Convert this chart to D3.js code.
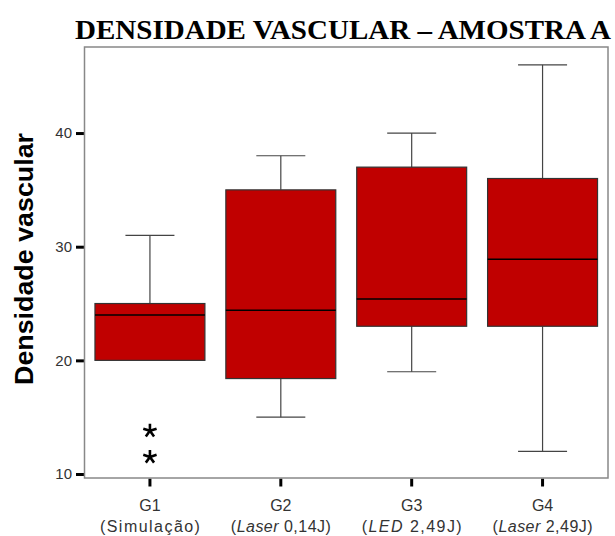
<!DOCTYPE html>
<html>
<head>
    <meta charset="UTF-8">
    <title>Densidade vascular - Amostra A</title>
    <script src="https://d3js.org/d3.v7.min.js"></script>
    <style>
        body { margin: 0; padding: 0; background: #fff; }
        svg { display: block; }
        .tick-label { font-family: "Liberation Sans", Arial, sans-serif; fill: #333; }
    </style>
</head>
<body>
    <svg id="chart" width="615" height="536"></svg>

    <script>
        // dados (SPSS boxplot)
        const groups = ["G1", "G2", "G3", "G4"];
        const italicPart = ["", "Laser", "LED", "Laser"];
        const restPart = ["Simulação", " 0,14J", " 2,49J", " 2,49J"];
        const whiskerLow = [20, 15, 19, 12];
        const q1 = [20, 18.4, 23, 23];
        const median = [24, 24.4, 25.4, 28.9];
        const q3 = [25, 35, 37, 36];
        const whiskerHigh = [31, 38, 40, 46];
        const outlierGroup = ["G1", "G1"];
        const outlierValue = [13.8, 11.5];
        const yTicks = [10, 20, 30, 40];

        const svg = d3.select("#chart");
        const frame = { left: 84.5, right: 608, top: 47, bottom: 478 };

        const x = d3.scaleBand()
            .domain(groups)
            .range([frame.left, frame.right])
            .paddingInner(0.16)
            .paddingOuter(0.08);

        const y = d3.scaleLinear()
            .domain([9.65, 47.57])
            .range([frame.bottom, frame.top]);

        const boxes = groups.map((g, i) => ({
            g, lo: whiskerLow[i], q1: q1[i], med: median[i], q3: q3[i], hi: whiskerHigh[i]
        }));

        // titulo
        svg.append("text")
            .attr("x", 75)
            .attr("y", 39)
            .attr("textLength", 536)
            .attr("lengthAdjust", "spacingAndGlyphs")
            .style("font-family", "'Liberation Serif', 'Times New Roman', serif")
            .style("font-weight", "bold")
            .style("font-size", "28px")
            .text("DENSIDADE VASCULAR – AMOSTRA A");

        // eixo y: titulo
        svg.append("text")
            .attr("transform", "translate(33,259) rotate(-90)")
            .attr("text-anchor", "middle")
            .attr("textLength", 252)
            .attr("lengthAdjust", "spacingAndGlyphs")
            .style("font-family", "'Liberation Sans', Arial, sans-serif")
            .style("font-weight", "bold")
            .style("font-size", "25px")
            .text("Densidade vascular");

        // eixo y
        const yAxis = svg.append("g")
            .attr("transform", `translate(${frame.left - 0.5},0)`)
            .call(d3.axisLeft(y).tickValues(yTicks).tickSize(8).tickPadding(4));
        yAxis.select(".domain").remove();
        yAxis.selectAll(".tick line").attr("stroke", "#000").attr("stroke-width", 3);
        yAxis.selectAll(".tick text")
            .attr("class", "tick-label")
            .style("font-size", "15px")
            .attr("font-family", null);

        // eixo x
        const xAxis = svg.append("g")
            .attr("transform", `translate(0,${frame.bottom + 0.5})`)
            .call(d3.axisBottom(x).tickSize(8).tickFormat(""));
        xAxis.select(".domain").remove();
        xAxis.selectAll(".tick line").attr("stroke", "#000").attr("stroke-width", 3);

        const xLabels = svg.append("g").selectAll("g")
            .data(groups)
            .join("g")
            .attr("transform", d => `translate(${x(d) + x.bandwidth() / 2},0)`);

        xLabels.append("text")
            .attr("class", "tick-label")
            .attr("y", 511)
            .attr("text-anchor", "middle")
            .style("font-size", "16px")
            .text(d => d);

        const sub = xLabels.append("text")
            .attr("class", "tick-label")
            .attr("y", 532)
            .attr("text-anchor", "middle")
            .attr("textLength", 100)
            .attr("lengthAdjust", "spacing")
            .style("font-size", "16px");
        sub.append("tspan").text("(");
        sub.append("tspan").style("font-style", "italic").text((d, i) => italicPart[i]);
        sub.append("tspan").text((d, i) => restPart[i] + ")");

        // caixas
        const capHalf = 24.5;
        const bw = x.bandwidth();
        const box = svg.append("g").selectAll("g")
            .data(boxes)
            .join("g")
            .attr("transform", d => `translate(${x(d.g)},0)`);

        box.append("line")
            .attr("x1", bw / 2).attr("x2", bw / 2)
            .attr("y1", d => y(d.q3)).attr("y2", d => y(d.hi))
            .attr("stroke", "#444").attr("stroke-width", 1.2);
        box.append("line")
            .attr("x1", bw / 2 - capHalf).attr("x2", bw / 2 + capHalf)
            .attr("y1", d => y(d.hi)).attr("y2", d => y(d.hi))
            .attr("stroke", "#444").attr("stroke-width", 1.2);
        box.filter(d => d.lo < d.q1).append("line")
            .attr("x1", bw / 2).attr("x2", bw / 2)
            .attr("y1", d => y(d.q1)).attr("y2", d => y(d.lo))
            .attr("stroke", "#444").attr("stroke-width", 1.2);
        box.filter(d => d.lo < d.q1).append("line")
            .attr("x1", bw / 2 - capHalf).attr("x2", bw / 2 + capHalf)
            .attr("y1", d => y(d.lo)).attr("y2", d => y(d.lo))
            .attr("stroke", "#444").attr("stroke-width", 1.2);

        box.append("rect")
            .attr("x", 0)
            .attr("width", bw)
            .attr("y", d => y(d.q3))
            .attr("height", d => y(d.q1) - y(d.q3))
            .attr("fill", "#c00000")
            .attr("stroke", "#333")
            .attr("stroke-width", 1.2);

        box.append("line")
            .attr("x1", 0).attr("x2", bw)
            .attr("y1", d => y(d.med)).attr("y2", d => y(d.med))
            .attr("stroke", "#000").attr("stroke-width", 1.5);

        // outliers extremos (asterisco)
        const asterisk = {
            draw(ctx, size) {
                const r = Math.sqrt(size) / 2;
                for (let k = 0; k < 5; k++) {
                    const a = -Math.PI / 2 + k * 2 * Math.PI / 5;
                    ctx.moveTo(0, 0);
                    ctx.lineTo(r * Math.cos(a), r * Math.sin(a));
                }
            }
        };
        svg.append("g").selectAll("path")
            .data(outlierValue)
            .join("path")
            .attr("transform", (d, i) => `translate(${x(outlierGroup[i]) + bw / 2},${y(d)})`)
            .attr("d", d3.symbol().type(asterisk).size(196))
            .attr("fill", "none")
            .attr("stroke", "#000")
            .attr("stroke-width", 2.6);

        // moldura
        svg.append("rect")
            .attr("x", frame.left)
            .attr("y", frame.top)
            .attr("width", frame.right - frame.left)
            .attr("height", frame.bottom - frame.top)
            .attr("fill", "none")
            .attr("stroke", "#888")
            .attr("stroke-width", 1.5);
    </script>
</body>
</html>
